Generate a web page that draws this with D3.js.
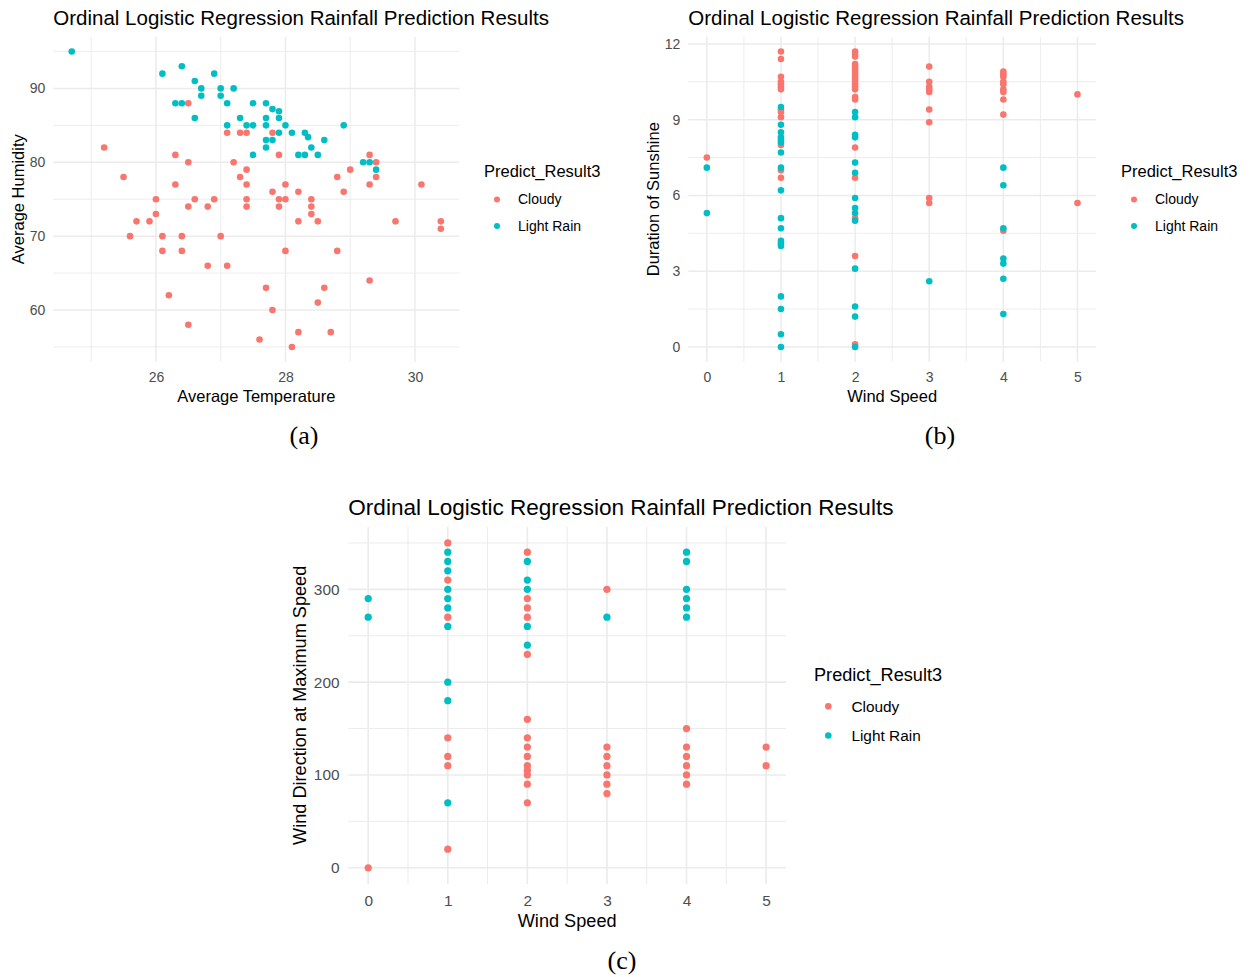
<!DOCTYPE html>
<html>
<head>
<meta charset="utf-8">
<script src="https://cdn.jsdelivr.net/npm/d3@7"></script>
<style>
  body { margin: 0; background: #fff; }
  text { font-family: "Liberation Sans", Arial, sans-serif; }
</style>
</head>
<body>
<script>
// (a) average temperature vs average humidity
const tempHumCloudy = [
  [25.2, 82], [25.5, 78], [25.6, 70], [25.7, 72], [25.9, 72], [26.0, 75], [26.0, 73], [26.1, 70],
  [26.1, 68], [26.2, 62], [26.3, 81], [26.3, 77], [26.4, 70], [26.4, 68], [26.5, 88], [26.5, 80],
  [26.5, 74], [26.5, 58], [26.6, 75], [26.8, 74], [26.8, 66], [26.9, 75], [27.0, 70], [27.1, 84],
  [27.1, 66], [27.2, 80], [27.3, 84], [27.3, 78], [27.4, 84], [27.4, 79], [27.4, 77], [27.4, 75],
  [27.4, 74], [27.6, 56], [27.7, 63], [27.8, 84], [27.8, 76], [27.8, 60], [27.9, 81], [27.9, 75],
  [27.9, 74], [28.0, 77], [28.0, 75], [28.0, 68], [28.1, 55], [28.2, 76], [28.2, 72], [28.2, 57],
  [28.4, 75], [28.4, 74], [28.4, 73], [28.5, 72], [28.5, 61], [28.6, 63], [28.7, 57], [28.8, 78],
  [28.8, 68], [28.9, 76], [29.0, 79], [29.3, 81], [29.3, 77], [29.3, 64], [29.4, 80], [29.4, 78],
  [29.7, 72], [30.1, 77], [30.4, 72], [30.4, 71]
];
const tempHumRain = [
  [24.7, 95], [26.1, 92], [26.3, 88], [26.4, 93], [26.4, 88], [26.6, 91], [26.6, 86], [26.7, 90],
  [26.7, 89], [26.9, 92], [27.0, 90], [27.0, 89], [27.1, 88], [27.1, 85], [27.2, 90], [27.3, 86],
  [27.4, 85], [27.5, 88], [27.5, 85], [27.5, 81], [27.7, 88], [27.7, 86], [27.7, 85], [27.7, 83],
  [27.7, 82], [27.8, 87.2], [27.8, 83], [27.9, 86.9], [27.9, 86], [27.9, 84], [28.0, 85], [28.1, 84],
  [28.2, 81], [28.3, 84], [28.3, 81], [28.35, 83.4], [28.4, 82], [28.5, 81], [28.6, 83], [28.9, 85],
  [29.2, 80], [29.3, 80], [29.4, 79]
];

// (b) wind speed vs duration of sunshine
const windSunCloudy = [
  [0, 7.5],
  [1, 11.7], [1, 11.4], [1, 10.7], [1, 10.5], [1, 10.4], [1, 10.3], [1, 10.2], [1, 9.4], [1, 9.3],
  [1, 9.1], [1, 8.0], [1, 7.0], [1, 6.7],
  [2, 11.7], [2, 11.6], [2, 11.5], [2, 11.2], [2, 11.1], [2, 11.0], [2, 10.9], [2, 10.8], [2, 10.7],
  [2, 10.6], [2, 10.5], [2, 10.4], [2, 10.3], [2, 10.2], [2, 9.9], [2, 9.8], [2, 7.9], [2, 6.7],
  [2, 5.1], [2, 3.6], [2, 0.1],
  [3, 11.1], [3, 10.5], [3, 10.3], [3, 10.2], [3, 10.1], [3, 9.4], [3, 8.9], [3, 5.9], [3, 5.7],
  [4, 10.9], [4, 10.8], [4, 10.7], [4, 10.5], [4, 10.4], [4, 10.2], [4, 10.1], [4, 9.8], [4, 9.2],
  [4, 4.6],
  [5, 10.0], [5, 5.7]
];
const windSunRain = [
  [0, 7.1], [0, 5.3],
  [1, 9.5], [1, 8.8], [1, 8.5], [1, 8.3], [1, 8.2], [1, 8.1], [1, 7.7], [1, 7.1], [1, 6.2],
  [1, 5.1], [1, 4.7], [1, 4.2], [1, 4.1], [1, 4.0], [1, 2.0], [1, 1.5], [1, 0.5], [1, 0],
  [2, 9.3], [2, 9.1], [2, 8.4], [2, 8.3], [2, 7.3], [2, 6.9], [2, 5.9], [2, 5.5], [2, 5.3],
  [2, 5.0], [2, 3.1], [2, 1.6], [2, 1.2], [2, 0],
  [3, 2.6],
  [4, 7.1], [4, 6.4], [4, 4.7], [4, 3.5], [4, 3.3], [4, 2.7], [4, 1.3]
];

// (c) wind speed vs wind direction at maximum speed
const windDirCloudy = [
  [0, 0],
  [1, 350], [1, 310], [1, 270], [1, 140], [1, 120], [1, 110], [1, 20],
  [2, 340], [2, 290], [2, 280], [2, 270], [2, 230], [2, 160], [2, 140], [2, 130], [2, 120],
  [2, 110], [2, 105], [2, 100], [2, 90], [2, 70],
  [3, 300], [3, 130], [3, 120], [3, 110], [3, 100], [3, 90], [3, 80],
  [4, 150], [4, 130], [4, 120], [4, 110], [4, 100], [4, 90],
  [5, 130], [5, 110]
];
const windDirRain = [
  [0, 290], [0, 270],
  [1, 340], [1, 330], [1, 320], [1, 300], [1, 290], [1, 280], [1, 260], [1, 200], [1, 180], [1, 70],
  [2, 330], [2, 310], [2, 300], [2, 260], [2, 240],
  [3, 270],
  [4, 340], [4, 330], [4, 300], [4, 290], [4, 280], [4, 270]
];

const classes = ['Cloudy', 'Light Rain'];
const classColors = ['#F8766D', '#00BFC4'];
const titleText = 'Ordinal Logistic Regression Rainfall Prediction Results';
const legendTitle = 'Predict_Result3';

const tempTicks = [26, 28, 30];
const humTicks = [60, 70, 80, 90];
const windTicks = [0, 1, 2, 3, 4, 5];
const sunTicks = [0, 3, 6, 9, 12];
const dirTicks = [0, 100, 200, 300];

const svg = d3.select('body')
  .append('svg')
  .attr('width', 1252)
  .attr('height', 977);

const expand = ext => {
  const r = ext[1] - ext[0];
  return [ext[0] - r * 0.05, ext[1] + r * 0.05];
};

const minorsOf = (ticks, domain) => {
  const step = ticks[1] - ticks[0];
  return d3.range(ticks[0] - step / 2, ticks[ticks.length - 1] + step, step)
    .filter(v => v >= domain[0] && v <= domain[1]);
};

function drawPanel(p) {
  const k = p.k;
  const all = p.cloudy.concat(p.rain);
  const xScale = d3.scaleLinear()
    .domain(expand(d3.extent(all, d => d[0])))
    .range([p.left, p.right]);
  const yScale = d3.scaleLinear()
    .domain(expand(d3.extent(all, d => d[1])))
    .range([p.bottom, p.top]);

  const g = svg.append('g');

  // grid, minor then major
  const grid = g.append('g');
  grid.selectAll('line.xminor')
    .data(minorsOf(p.xTicks, xScale.domain()))
    .join('line')
    .attr('x1', d => xScale(d)).attr('x2', d => xScale(d))
    .attr('y1', p.top).attr('y2', p.bottom)
    .attr('stroke', '#EBEBEB').attr('stroke-width', 0.9 * k);
  grid.selectAll('line.yminor')
    .data(minorsOf(p.yTicks, yScale.domain()))
    .join('line')
    .attr('x1', p.left).attr('x2', p.right)
    .attr('y1', d => yScale(d)).attr('y2', d => yScale(d))
    .attr('stroke', '#EBEBEB').attr('stroke-width', 0.9 * k);
  grid.append('g').selectAll('line')
    .data(p.xTicks)
    .join('line')
    .attr('x1', d => xScale(d)).attr('x2', d => xScale(d))
    .attr('y1', p.top).attr('y2', p.bottom)
    .attr('stroke', '#EBEBEB').attr('stroke-width', 1.5 * k);
  grid.append('g').selectAll('line')
    .data(p.yTicks)
    .join('line')
    .attr('x1', p.left).attr('x2', p.right)
    .attr('y1', d => yScale(d)).attr('y2', d => yScale(d))
    .attr('stroke', '#EBEBEB').attr('stroke-width', 1.5 * k);

  // tick labels through d3 axes
  const xAxis = g.append('g')
    .attr('transform', `translate(0,${p.bottom})`)
    .call(d3.axisBottom(xScale).tickValues(p.xTicks).tickSize(0).tickPadding(10 * k).tickFormat(d3.format('d')));
  const yAxis = g.append('g')
    .attr('transform', `translate(${p.left},0)`)
    .call(d3.axisLeft(yScale).tickValues(p.yTicks).tickSize(0).tickPadding(8 * k).tickFormat(d3.format('d')));
  [xAxis, yAxis].forEach(ax => {
    ax.select('.domain').remove();
    ax.selectAll('text')
      .style('font-family', '"Liberation Sans", Arial, sans-serif')
      .style('font-size', `${14 * k}px`)
      .attr('fill', '#4D4D4D');
  });

  // points
  [p.cloudy, p.rain].forEach((set, i) => {
    g.append('g').selectAll('circle')
      .data(set)
      .join('circle')
      .attr('cx', d => xScale(d[0]))
      .attr('cy', d => yScale(d[1]))
      .attr('r', 3.3 * k)
      .attr('fill', classColors[i]);
  });

  // title
  g.append('text')
    .attr('x', p.left)
    .attr('y', p.titleY)
    .attr('dy', '0.35em')
    .style('font-size', `${20.5 * k}px`)
    .text(titleText);

  // axis titles
  g.append('text')
    .attr('x', (p.left + p.right) / 2)
    .attr('y', p.xTitleY)
    .attr('dy', '0.35em')
    .attr('text-anchor', 'middle')
    .style('font-size', `${16.5 * k}px`)
    .text(p.xLabel);
  g.append('text')
    .attr('transform', `translate(${p.yTitleX},${(p.top + p.bottom) / 2}) rotate(-90)`)
    .attr('dy', '0.35em')
    .attr('text-anchor', 'middle')
    .style('font-size', `${16.5 * k}px`)
    .text(p.yLabel);

  // legend
  const lg = g.append('g').attr('transform', `translate(${p.legendX},${p.legendY})`);
  lg.append('text')
    .attr('dy', '0.35em')
    .style('font-size', `${16.5 * k}px`)
    .text(legendTitle);
  classes.forEach((c, i) => {
    const yy = (28.5 + i * 26.5) * k;
    lg.append('circle')
      .attr('cx', 13 * k)
      .attr('cy', yy)
      .attr('r', 3 * k)
      .attr('fill', classColors[i]);
    lg.append('text')
      .attr('x', 34 * k)
      .attr('y', yy)
      .attr('dy', '0.35em')
      .style('font-size', `${14 * k}px`)
      .text(c);
  });

  // caption
  svg.append('text')
    .attr('x', p.capX)
    .attr('y', p.capY)
    .attr('dy', '0.35em')
    .attr('text-anchor', 'middle')
    .style('font-family', '"Liberation Serif", "Times New Roman", serif')
    .style('font-size', '26px')
    .text(p.caption);
}

drawPanel({
  cloudy: tempHumCloudy, rain: tempHumRain, xTicks: tempTicks, yTicks: humTicks,
  left: 53.3, right: 459.3, top: 36.7, bottom: 361.7, k: 1,
  titleY: 18, xTitleY: 396, yTitleX: 18, xLabel: 'Average Temperature', yLabel: 'Average Humidity',
  legendX: 484, legendY: 171, caption: '(a)', capX: 304, capY: 435
});
drawPanel({
  cloudy: windSunCloudy, rain: windSunRain, xTicks: windTicks, yTicks: sunTicks,
  left: 688.3, right: 1096, top: 36.7, bottom: 361.7, k: 1,
  titleY: 18, xTitleY: 396, yTitleX: 653, xLabel: 'Wind Speed', yLabel: 'Duration of Sunshine',
  legendX: 1121, legendY: 171, caption: '(b)', capX: 940, capY: 435
});
drawPanel({
  cloudy: windDirCloudy, rain: windDirRain, xTicks: windTicks, yTicks: dirTicks,
  left: 348.3, right: 786, top: 526.7, bottom: 884, k: 1.1,
  titleY: 507, xTitleY: 921, yTitleX: 300, xLabel: 'Wind Speed', yLabel: 'Wind Direction at Maximum Speed',
  legendX: 814, legendY: 675, caption: '(c)', capX: 622, capY: 960
});
</script>
</body>
</html>
